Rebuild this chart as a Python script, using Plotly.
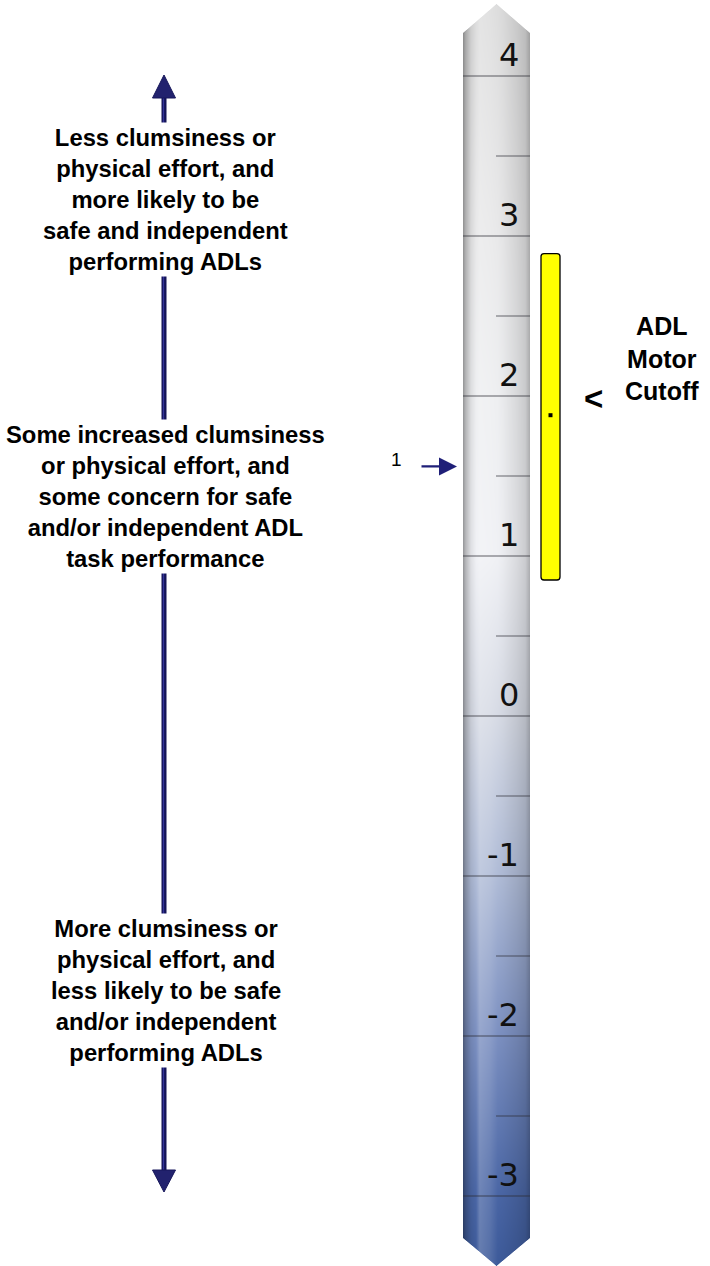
import base64
import struct
import zlib

import numpy as np
import plotly.graph_objects as go

# ---------------- data ----------------
scale_values = [-3, -2, -1, 0, 1, 2, 3, 4]
scale_labels = ["-3", "-2", "-1", "0", "1", "2", "3", "4"]
half_steps = [-2.5, -1.5, -0.5, 0.5, 1.5, 2.5, 3.5]

cutoff_low = 0.85
cutoff_high = 2.89
cutoff_point = 1.88

person_scores = [1.56]
person_ids = ["1"]

left_texts = [
    "Less clumsiness or<br>physical effort, and<br>more likely to be<br>safe and independent<br>performing ADLs",
    "Some increased clumsiness<br>or physical effort, and<br>some concern for safe<br>and/or independent ADL<br>task performance",
    "More clumsiness or<br>physical effort, and<br>less likely to be safe<br>and/or independent<br>performing ADLs",
]
cutoff_title = "ADL<br>Motor<br>Cutoff"

# ---------------- layout constants (pixels) ----------------
W, H = 710, 1266
PX_PER_UNIT = 160.0
PY_AT_ONE = 556.0
Y_MIN = 1 - (H - PY_AT_ONE) / PX_PER_UNIT
Y_MAX = 1 + PY_AT_ONE / PX_PER_UNIT

TX0, TX1 = 463, 530
T_TOP, T_SHOULDER_TOP = 4, 33
T_SHOULDER_BOT, T_BOT = 1238, 1266

ARROW_X = 164
TEXT_X = 165.5
left_text_rows = [199, 496, 990]

# ---------------- thermometer image ----------------
tw = TX1 - TX0
rows = np.arange(T_TOP, T_BOT) + 0.5
cols = np.arange(tw) + 0.5
u = cols / tw
vv = 1 + (PY_AT_ONE - rows) / PX_PER_UNIT

stop_v = [-3.6, -3.0, -2.0, -1.0, 0.0, 1.0, 2.0, 3.0, 4.6]
stop_rgb = [
    (56, 86, 150),
    (74, 102, 165),
    (124, 144, 193),
    (176, 188, 215),
    (215, 219, 229),
    (240, 241, 245),
    (238, 239, 241),
    (233, 233, 234),
    (220, 220, 220),
]
base = np.stack([np.interp(vv, stop_v, [c[i] for c in stop_rgb]) for i in range(3)], axis=-1)

prof_u = [0.0, 0.04, 0.12, 0.25, 0.4, 0.6, 0.8, 0.93, 1.0]
prof_f = [0.62, 0.76, 0.93, 1.05, 1.03, 0.98, 0.91, 0.85, 0.72]
f = np.interp(u, prof_u, prof_f)

B = base[:, None, :]
F = f[None, :, None]
col = np.where(F <= 1.0, B * F, B + (255 - B) * (F - 1.0) * 4.0)
col = np.clip(col, 0, 255)

half = tw / 2.0
adx = np.abs(cols - half)[None, :]
ry = rows[:, None]
allowed = np.full((len(rows), 1), half + 10.0)
top_mask = ry < T_SHOULDER_TOP
bot_mask = ry > T_SHOULDER_BOT
allowed = np.where(top_mask, half * (ry - T_TOP) / (T_SHOULDER_TOP - T_TOP), allowed)
allowed = np.where(bot_mask, half * (T_BOT - ry) / (T_BOT - T_SHOULDER_BOT), allowed)
alpha = np.clip((allowed - adx) * 0.8 + 0.5, 0, 1)

img = np.zeros((len(rows), tw, 4), dtype=np.uint8)
img[..., :3] = col.astype(np.uint8)
img[..., 3] = (alpha * 255).astype(np.uint8)


def png_uri(arr):
    h, w, _ = arr.shape
    raw = b"".join(b"\x00" + arr[y].tobytes() for y in range(h))

    def chunk(tag, data):
        return (struct.pack(">I", len(data)) + tag + data
                + struct.pack(">I", zlib.crc32(tag + data) & 0xFFFFFFFF))

    png = (b"\x89PNG\r\n\x1a\n"
           + chunk(b"IHDR", struct.pack(">IIBBBBB", w, h, 8, 6, 0, 0, 0))
           + chunk(b"IDAT", zlib.compress(raw, 9))
           + chunk(b"IEND", b""))
    return "data:image/png;base64," + base64.b64encode(png).decode()


fig = go.Figure()

fig.add_trace(go.Image(source=png_uri(img), x0=TX0 + 0.5, dx=1, y0=T_TOP + 0.5, dy=1,
                       xaxis="x", yaxis="y2", hoverinfo="skip"))

# yellow cutoff band
fig.add_trace(go.Bar(x=[550.5], y=[cutoff_high - cutoff_low], base=[cutoff_low], width=19,
                     marker=dict(color="#ffff00", line=dict(color="black", width=1.3)),
                     hoverinfo="skip", xaxis="x", yaxis="y"))
fig.add_trace(go.Scatter(x=[550.5], y=[cutoff_point], mode="markers",
                         marker=dict(symbol="square", size=4, color="black"),
                         hoverinfo="skip", xaxis="x", yaxis="y"))

shapes = []
for v in scale_values:
    shapes.append(dict(type="line", xref="x", yref="y", x0=TX0, x1=TX1, y0=v, y1=v,
                       line=dict(color="rgba(45,45,55,0.75)", width=1.2)))
for v in half_steps:
    shapes.append(dict(type="line", xref="x", yref="y", x0=496, x1=TX1, y0=v, y1=v,
                       line=dict(color="rgba(45,45,55,0.7)", width=1.2)))

# left double arrow
shapes.append(dict(type="line", xref="x", yref="y2", x0=ARROW_X, x1=ARROW_X, y0=96, y1=1172,
                   line=dict(color="#141458", width=5)))
shapes.append(dict(type="line", xref="x", yref="y2", x0=ARROW_X - 0.5, x1=ARROW_X - 0.5, y0=96, y1=1172,
                   line=dict(color="#34349a", width=1.3)))
shapes.append(dict(type="path", xref="x", yref="y2",
                   path=f"M {ARROW_X},75 L {ARROW_X + 11.5},98 L {ARROW_X - 11.5},98 Z",
                   fillcolor="#22226e", line=dict(color="#16165a", width=1)))
shapes.append(dict(type="path", xref="x", yref="y2",
                   path=f"M {ARROW_X},1192 L {ARROW_X + 11.5},1170 L {ARROW_X - 11.5},1170 Z",
                   fillcolor="#22226e", line=dict(color="#16165a", width=1)))

annotations = []
for v, lab in zip(scale_values, scale_labels):
    annotations.append(dict(x=521, y=v, xref="x", yref="y", text=lab, showarrow=False,
                            xanchor="right", yanchor="bottom",
                            font=dict(family="DejaVu Sans", size=32, color="#111111")))

for s, pid in zip(person_scores, person_ids):
    annotations.append(dict(x=TX0 - 6, y=s, xref="x", yref="y", ax=420, ay=s, axref="x", ayref="y",
                            text="", showarrow=True, arrowhead=2, arrowsize=1.5, arrowwidth=2.4,
                            arrowcolor="#1f1f78"))
    annotations.append(dict(x=396, y=s, xref="x", yref="y", text=pid, showarrow=False,
                            yshift=7, font=dict(family="Liberation Sans, Arial", size=19, color="black")))

for txt, row in zip(left_texts, left_text_rows):
    annotations.append(dict(x=TEXT_X, y=row, xref="x", yref="y2", text=f"<b>{txt}</b>",
                            showarrow=False, align="center", bgcolor="white", borderpad=1,
                            font=dict(family="Liberation Sans, Arial", size=23.8, color="black")))

annotations.append(dict(x=662, y=358, xref="x", yref="y2", text=f"<b>{cutoff_title}</b>",
                        showarrow=False, align="center",
                        font=dict(family="Liberation Sans, Arial", size=25, color="black")))
annotations.append(dict(x=593, y=398, xref="x", yref="y2", text="<b>&lt;</b>",
                        showarrow=False,
                        font=dict(family="Liberation Sans, Arial", size=33, color="black")))

fig.update_layout(
    width=W, height=H,
    margin=dict(l=0, r=0, t=0, b=0),
    paper_bgcolor="white", plot_bgcolor="white",
    showlegend=False,
    barcornerradius=3,
    xaxis=dict(range=[0, W], visible=False, fixedrange=True),
    yaxis=dict(range=[Y_MIN, Y_MAX], visible=False, fixedrange=True),
    yaxis2=dict(range=[H, 0], overlaying="y", visible=False, fixedrange=True),
    shapes=shapes,
    annotations=annotations,
)

fig.write_html("out.html", config={"displayModeBar": False},
               post_script="document.body.style.margin='0px';document.body.style.overflow='hidden';")
